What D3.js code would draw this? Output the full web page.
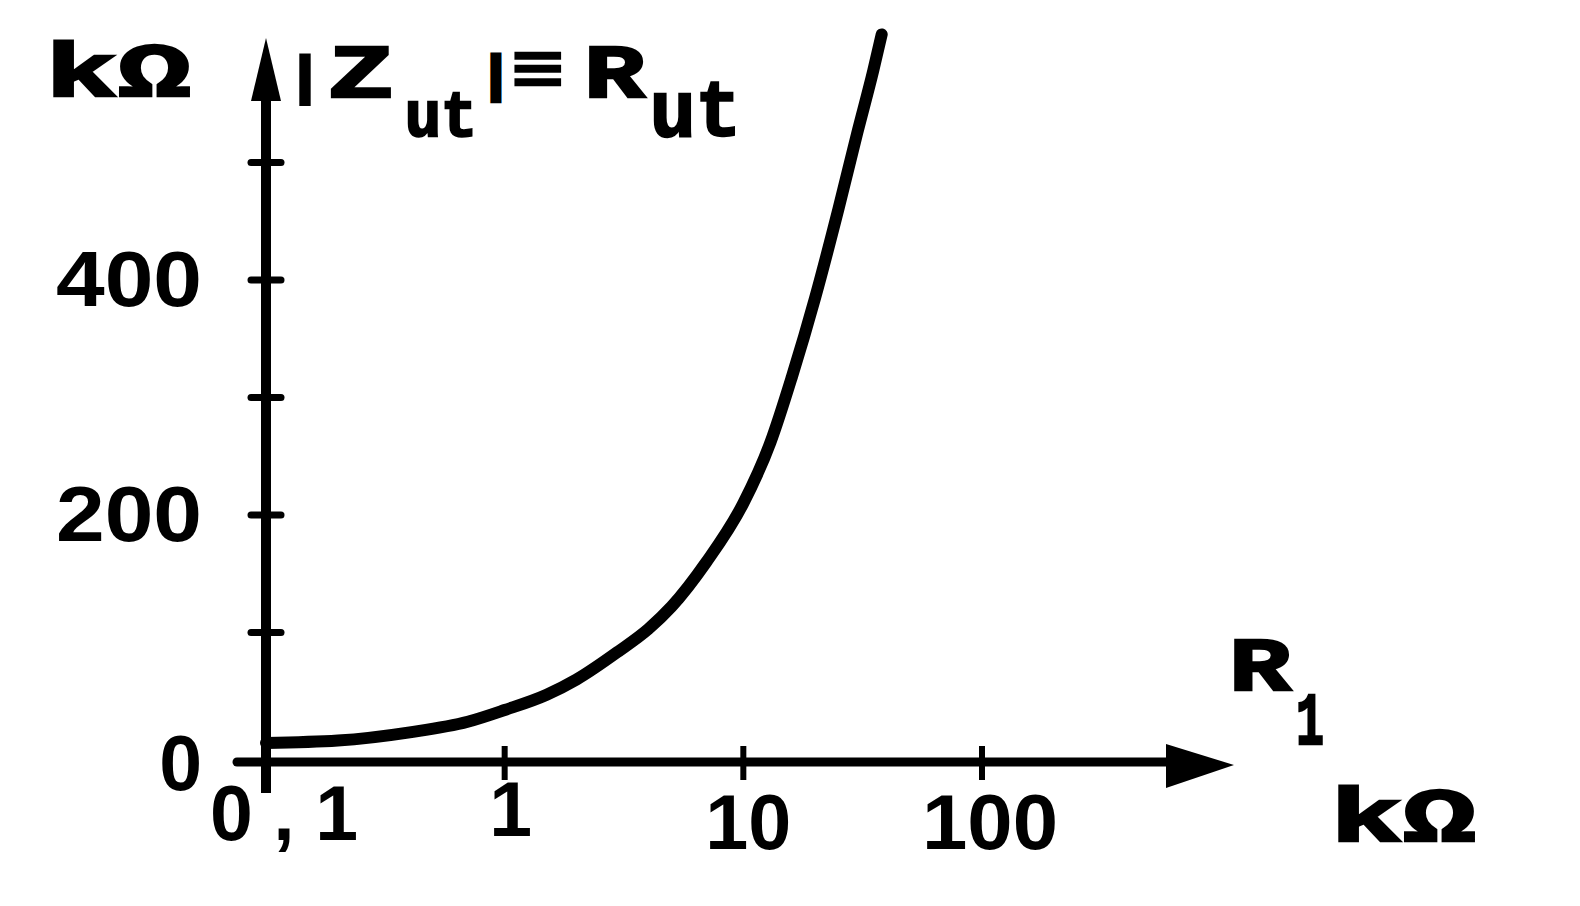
<!DOCTYPE html>
<html>
<head>
<meta charset="utf-8">
<script src="https://cdn.jsdelivr.net/npm/d3@7"></script>
<style>
  html, body { margin: 0; padding: 0; background: #fff; }
  svg { display: block; }
  text { font-weight: bold; fill: #000; }
  .lbl { font-family: "Liberation Mono", "DejaVu Sans Mono", monospace; stroke: #000; stroke-width: 2.5px; }
  .num { font-family: "Liberation Sans", "DejaVu Sans", sans-serif; }
</style>
</head>
<body>
<svg id="chart" width="1580" height="906"></svg>
<script>
// ---- data ----
const r1Values  = [0.1, 0.2, 0.4, 0.7, 1, 1.5, 2, 3, 4, 5, 7, 10, 13, 16, 20, 25, 30, 35, 38]; // R1, kΩ
const rutValues = [6, 8, 15, 24, 34, 47, 60, 84, 103, 122, 160, 210, 262, 318, 385, 460, 525, 578, 609]; // Rut, kΩ
const xTickValues = [0.1, 1, 10, 100];
const xTickLabels = ["0,1", "1", "10", "100"];
const yTickValues = [100, 200, 300, 400, 500];
const yLabelValues = [200, 400];
const yLabels = ["200", "400"];

const svg = d3.select("#chart");
const W = 1580, H = 906;
svg.append("rect").attr("width", W).attr("height", H).attr("fill", "#fff");

// scales
const x = d3.scaleLog().domain([0.1, 100]).range([266, 982]);
const y = d3.scaleLinear().domain([0, 500]).range([750, 162.5]);

const axisX = x(0.1);     // vertical axis position
const axisY = 762;        // horizontal axis position (slightly below y(0))

// ---- axes lines ----
svg.append("line").attr("x1", axisX).attr("x2", axisX).attr("y1", 98).attr("y2", 793)
  .attr("stroke", "#000").attr("stroke-width", 10);
svg.append("path").attr("d", `M${axisX},38 L${axisX+15},101 L${axisX-15},101 Z`).attr("fill", "#000");

svg.append("line").attr("x1", 237).attr("x2", 1170).attr("y1", axisY).attr("y2", axisY)
  .attr("stroke", "#000").attr("stroke-width", 9).attr("stroke-linecap", "round");
svg.append("path").attr("d", `M1166,744 L1234,765 L1166,788 Z`).attr("fill", "#000");

// y ticks
svg.selectAll(".ytick").data(yTickValues).enter().append("line")
  .attr("x1", axisX - 15).attr("x2", axisX + 15)
  .attr("y1", d => y(d)).attr("y2", d => y(d))
  .attr("stroke", "#000").attr("stroke-width", 7).attr("stroke-linecap", "round");

// y labels
svg.selectAll(".ylab").data(yLabelValues).enter().append("text")
  .attr("class", "num")
  .attr("x", 202).attr("y", d => y(d) + 26)
  .attr("text-anchor", "end").attr("font-size", 77)
  .attr("textLength", 146).attr("lengthAdjust", "spacingAndGlyphs")
  .text((d, i) => yLabels[i]);
svg.append("text").attr("class", "num").attr("x", 202).attr("y", 790).attr("text-anchor", "end")
  .attr("font-size", 77).text("0");

// x ticks (skip 0.1, which is the vertical axis)
svg.selectAll(".xtick").data(xTickValues.slice(1)).enter().append("line")
  .attr("x1", d => x(d)).attr("x2", d => x(d))
  .attr("y1", axisY - 16).attr("y2", axisY + 18)
  .attr("stroke", "#000").attr("stroke-width", 6);

// x labels
const xLab = svg.selectAll(".xlab").data(xTickValues).enter().append("text")
  .attr("class", "num").attr("font-size", 77).attr("text-anchor", "middle")
  .text((d, i) => xTickLabels[i]);
xLab.each(function(d, i) {
  const t = d3.select(this);
  if (i === 0) {
    t.attr("x", x(d) + 18).attr("y", 840).attr("textLength", 148).attr("lengthAdjust", "spacing");
  } else if (i === 1) {
    t.attr("x", x(d) + 6).attr("y", 836);
  } else if (i === 2) {
    t.attr("x", x(d) + 5).attr("y", 849).attr("textLength", 86).attr("lengthAdjust", "spacingAndGlyphs");
  } else {
    t.attr("x", x(d) + 8).attr("y", 849).attr("textLength", 136).attr("lengthAdjust", "spacingAndGlyphs");
  }
});

// ---- curve ----
const pts = r1Values.map((v, i) => [v, rutValues[i]]);
const line = d3.line().x(d => x(d[0])).y(d => y(d[1])).curve(d3.curveMonotoneX);
svg.append("path").datum(pts).attr("d", line)
  .attr("fill", "none").attr("stroke", "#000").attr("stroke-width", 12)
  .attr("stroke-linecap", "round");

// ---- unit and axis titles ----
function piece(txt, x0, base, size, width, anchor, sw) {
  const t = svg.append("text").attr("class", "lbl").attr("x", x0).attr("y", base)
    .attr("font-size", size).text(txt);
  if (width) t.attr("textLength", width).attr("lengthAdjust", "spacingAndGlyphs");
  if (anchor) t.attr("text-anchor", anchor);
  if (sw) t.style("stroke-width", sw + "px");
  return t;
}
piece("kΩ", 45, 96, 76, 146);
// |Zut| ≡ Rut
piece("|",  305, 92, 50, null, "middle", 5);
piece("Z",  328, 97, 76, 66);
piece("ut", 405, 136, 64, 72);
piece("|",  496, 90, 48, null, "middle", 5);
piece("≡",  511, 94, 76, 54);
piece("R",  584, 97, 76, 61);
piece("ut", 650, 136, 80, 91);
// R1 and unit
piece("R",  1229, 690, 76, 62);
piece("1",  1296, 744, 74, 28);
piece("kΩ", 1330, 841, 76, 146);
</script>
</body>
</html>
